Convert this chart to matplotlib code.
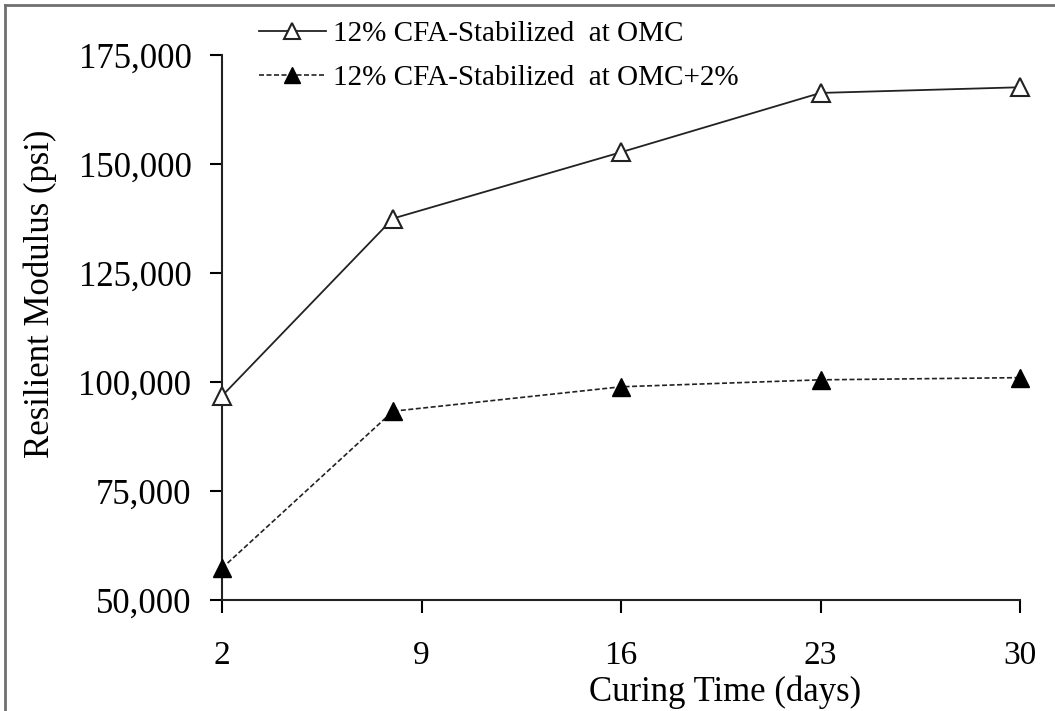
import matplotlib
matplotlib.use('Agg')
import matplotlib.pyplot as plt
from matplotlib.lines import Line2D
from matplotlib.ticker import FuncFormatter

plt.rcParams['font.family'] = ['Liberation Serif', 'DejaVu Serif']

days = [2, 8, 16, 23, 30]
mr_omc = [96800, 137500, 152700, 166300, 167600]
mr_omc2 = [57300, 93300, 98900, 100500, 101000]
x_ticks = [2, 9, 16, 23, 30]
y_ticks = [50000, 75000, 100000, 125000, 150000, 175000]
labels = ['12% CFA-Stabilized  at OMC', '12% CFA-Stabilized  at OMC+2%']

fig = plt.figure(figsize=(10.55, 7.11), dpi=100)
ax = fig.add_axes([222 / 1055, 1 - 600 / 711, (1020 - 222) / 1055, (600 - 55) / 711])

ax.plot(days, mr_omc, color='#222222', lw=1.3, marker='^', ms=13,
        mfc='white', mec='#222222', mew=1.5, label=labels[0], clip_on=False, zorder=3)
ax.plot(days, mr_omc2, color='#222222', lw=1.2, ls=(0, (3, 1.5)), marker='^', ms=13,
        mfc='black', mec='black', label=labels[1], clip_on=False, zorder=3)

ax.set_xlim(2, 30)
ax.set_ylim(50000, 175000)
ax.set_xticks(x_ticks)
ax.set_yticks(y_ticks)
ax.yaxis.set_major_formatter(FuncFormatter(lambda v, p: f'{int(v):,}'))

for s in ['top', 'right']:
    ax.spines[s].set_visible(False)
for s in ['left', 'bottom']:
    ax.spines[s].set_linewidth(1.5)
    ax.spines[s].set_color('#222222')

ax.tick_params(axis='y', direction='out', length=9, width=1.5, pad=13, labelsize=25)
ax.tick_params(axis='x', direction='out', length=9, width=1.5, pad=20, labelsize=24)

ax.set_xlabel('Curing Time (days)', fontsize=25)
ax.xaxis.set_label_coords((725 - 222) / 798, -(692 - 600) / 545)
ax.xaxis.label.set_va('center')
ax.set_ylabel('Resilient Modulus (psi)', fontsize=25)
ax.yaxis.set_label_coords(-(222 - 40) / 798, (600 - 294) / 545)
ax.yaxis.label.set_va('center')

fig.legend(loc='upper left', bbox_to_anchor=(244 / 1055, 1 - 6 / 711), frameon=False,
           fontsize=21, handlelength=2.3, handletextpad=0.25, labelspacing=0.6,
           borderpad=0, markerscale=0.85)

fig.add_artist(Line2D([5 / 1055, 5 / 1055], [0, 1 - 5 / 711], transform=fig.transFigure,
                      color='#707070', lw=2))
fig.add_artist(Line2D([5 / 1055, 1], [1 - 5 / 711, 1 - 5 / 711], transform=fig.transFigure,
                      color='#707070', lw=2))

fig.savefig('out.png', dpi=100)
